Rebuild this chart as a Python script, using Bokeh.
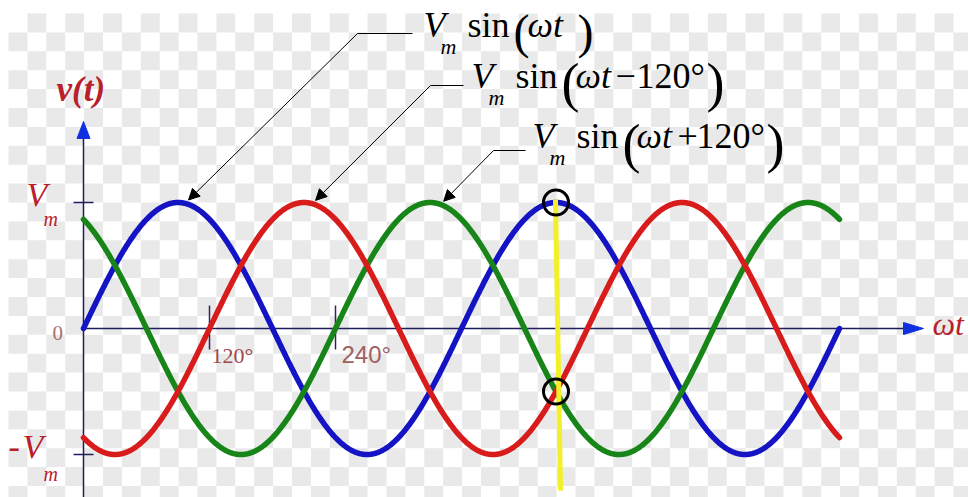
import numpy as np
from bokeh.plotting import figure
from bokeh.models import Range1d, Arrow, NormalHead
from bokeh.core.properties import value
from bokeh.embed import file_html
from bokeh.resources import INLINE

# ---- data -------------------------------------------------------------
Vm = 1.0
theta_deg = np.arange(0, 721, 1)            # ωt in degrees, two full cycles
phase_deg = [0, -120, 120]                   # phase shift of each phase
phase_colors = ["#1414c4", "#d81c1c", "#178517"]
draw_order = [0, 2, 1]                       # blue, green, red on top
x_ticks = [120, 240]
x_tick_labels = ["120°", "240°"]
marked_angle = 450                           # instant marked by the yellow cursor

W, H = 968, 497
PX_PER_DEG = 1.05
X0_PX, Y0_PX, AMP_PX = 83, 328, 126


def dx(px):
    return (px - X0_PX) / PX_PER_DEG


def dy(py):
    return (Y0_PX - py) / AMP_PX


def wave(phase):
    return Vm * np.sin(np.radians(theta_deg + phase))


p = figure(width=W, height=H, output_backend="svg", toolbar_location=None,
           x_range=Range1d(dx(0), dx(W)), y_range=Range1d(dy(H), dy(0)),
           x_axis_type=None, y_axis_type=None, min_border=0)
p.outline_line_color = None
p.background_fill_color = "white"
p.border_fill_color = "white"
p.xgrid.visible = False
p.ygrid.visible = False

# ---- light checkered backdrop ----------------------------------------
sq = 18.9
cx, cy = [], []
for i in range(51):
    for j in range(26):
        if (i + j) % 2 == 1:
            cx.append(dx(8 + sq * (i + 0.5)))
            cy.append(dy(13 + sq * (j + 0.5)))
p.rect(cx, cy, width=sq / PX_PER_DEG, height=sq / AMP_PX,
       fill_color="#e9e9e9", line_color=None)

# ---- axes -------------------------------------------------------------
axis_col = "#1e1e5e"
p.line([0, dx(905)], [0, 0], line_color=axis_col, line_width=1.5)
p.line([0, 0], [dy(H + 5), dy(136)], line_color=axis_col, line_width=1.5)
# arrow heads
p.patch([dx(903), dx(923), dx(903)], [dy(322), dy(328), dy(334)],
        fill_color="#1030e0", line_color="#1030e0")
p.patch([dx(76.5), dx(83), dx(89.5)], [dy(138), dy(121), dy(138)],
        fill_color="#1030e0", line_color="#1030e0")
# amplitude ticks
for v in (Vm, -Vm):
    p.line([dx(73), dx(93)], [v, v], line_color=axis_col, line_width=1.5)
# angle ticks
for t in x_ticks:
    p.line([t, t], [dy(305), dy(349)], line_color="#3a1e5e", line_width=1.5)

# ---- the three phase voltages ----------------------------------------
for k in draw_order:
    p.line(theta_deg, wave(phase_deg[k]), line_color=phase_colors[k],
           line_width=5.5, line_cap="round", line_join="round")

# ---- cursor at the marked instant ------------------------------------
p.line([marked_angle - 0.5, marked_angle + 4.3], [dy(199), dy(490)],
       line_color="#f2f028", line_width=5)
mark_vals = [Vm * np.sin(np.radians(marked_angle + ph)) for ph in (0, 120)]
p.scatter([marked_angle, marked_angle], mark_vals, size=25, marker="circle",
          fill_color=None, line_color="black", line_width=3)

# ---- text helpers -----------------------------------------------------
SERIF = "Liberation Serif"
SANS = "Liberation Sans"
BASELINE_SHIFT = 0.34   # svg text sits this fraction of an em below its anchor


def txt(s, px, py, size, color="black", style="normal", font=SERIF):
    p.text([dx(px)], [dy(py - BASELINE_SHIFT * size)], text=[s],
           text_font=value(font), text_font_size=f"{size}px",
           text_font_style=style, text_color=color,
           text_align="left", text_baseline="alphabetic")


red = "#b8202c"
# axis labels
txt("v(t)", 56, 101, 35, red, "bold italic")
txt("V", 26, 206, 34, red, "italic")
txt("m", 43, 225, 20, red, "italic")
txt("-", 8, 458, 34, red, "normal")
txt("V", 22, 458, 34, red, "italic")
txt("m", 43, 480, 20, red, "italic")
txt("0", 52, 340, 21, "#a87070")
txt("ωt", 932, 334, 32, red, "italic")
txt(x_tick_labels[0], 211, 362, 22, "#a04848")
txt(x_tick_labels[1], 341, 362, 24, "#a06060", font=SANS)


# ---- formula call-outs ----------------------------------------------
def formula(x0, base, term, rparen_x, paren_size, paren_base):
    txt("V", x0, base, 36, style="italic")
    txt("m", x0 + 17, base + 16, 22, style="italic")
    txt("sin", x0 + 44, base, 36)
    txt("(", x0 + 90, paren_base, paren_size)
    txt("ωt", x0 + 104, base, 36, style="italic")
    for s, off in term:
        txt(s, x0 + off, base, 36)
    txt(")", rparen_x, paren_base, paren_size)


formula(423, 37, [], 577, 48, 47)
formula(471, 88, [("−", 144), ("120°", 165)], 706, 54, 101)
formula(532, 148, [("+", 145), ("120°", 164)], 766, 54, 162)

# leader lines with arrow heads pointing at each wave
leaders = [  # (elbow px, label end px, line y px, target angle, phase index)
    (357, 412, 33, 100, 0),
    (430, 463, 85, 221, 1),
    (493, 525, 150, 343, 2),
]
for ex, lx, ly, tgt, k in leaders:
    p.line([dx(ex), dx(lx)], [dy(ly), dy(ly)], line_color="black", line_width=1)
    tip_v = Vm * np.sin(np.radians(tgt + phase_deg[k])) + 0.035
    p.add_layout(Arrow(end=NormalHead(size=11, fill_color="black",
                                      line_color="black"),
                       x_start=dx(ex), y_start=dy(ly), x_end=tgt, y_end=tip_v,
                       line_color="black", line_width=1))

open("out.html", "w").write(file_html(p, INLINE))
